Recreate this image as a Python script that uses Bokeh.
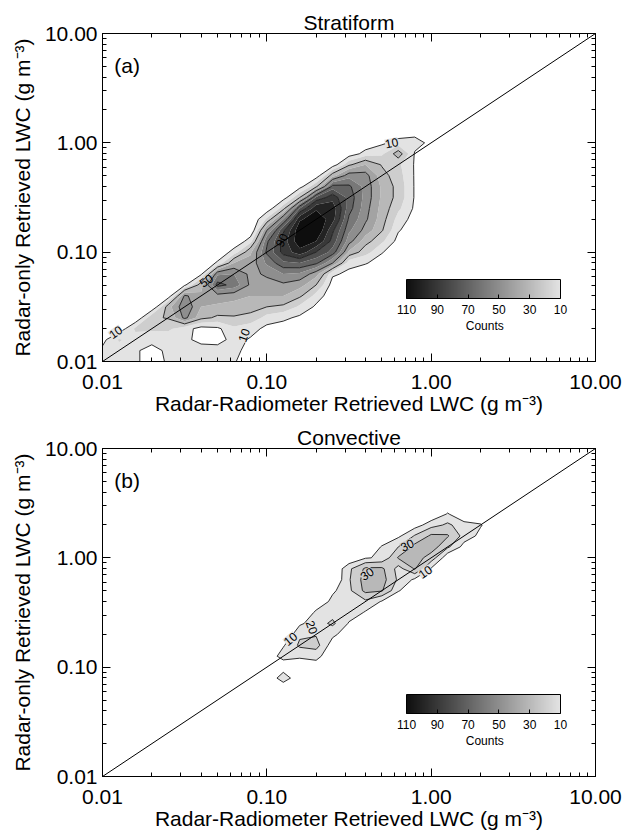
import numpy as np
from bokeh.plotting import figure
from bokeh.models import (ColorBar, LinearColorMapper, FixedTicker, CustomJSTickFormatter,
                          LogAxis, Label, Range1d)
from bokeh.layouts import column
from bokeh.embed import file_html
from bokeh.resources import INLINE

FONT = "Liberation Sans"

# ---------------- data ----------------
# bin centres (log10 of LWC, g m-3)
STRAT_LOGX = np.round(np.arange(-2.0, 0.15, 0.1), 1)   # 22 columns
STRAT_LOGY = np.round(np.arange(-2.0, 0.15, 0.1), 1)   # 22 rows
# counts per column (radar-radiometer bin), listed from the lowest radar-only bin upward
STRAT_COUNTS = [
    [15, 12, 7, 2],                                                       # -2.0
    [13, 17, 21, 3],                                                      # -1.9
    [12, 11, 16, 22, 0],                                                  # -1.8
    [4, 7, 13, 22, 28, 0],                                                # -1.7
    [12, 12, 14, 22, 31, 36, 3],                                          # -1.6
    [21, 13, 12, 14, 53, 58, 52, 8],                                      # -1.5
    [13, 14, 7, 6, 33, 40, 42, 36, 8],                                    # -1.4
    [13, 13, 7, 8, 28, 38, 46, 74, 58, 12, 0],                            # -1.3
    [11, 12, 13, 18, 29, 36, 44, 66, 60, 40, 15, 0],                      # -1.2
    [3, 7, 9, 14, 27, 34, 40, 48, 47, 44, 38, 16, 0],                     # -1.1
    [0, 0, 3, 7, 16, 30, 40, 46, 52, 62, 72, 68, 50, 22, 3, 0],           # -1.0
    [0, 0, 2, 6, 12, 28, 40, 48, 60, 78, 94, 95, 88, 60, 26, 5, 0],       # -0.9
    [0, 0, 0, 3, 8, 18, 32, 44, 58, 80, 106, 118, 118, 108, 80, 30, 6, 0],          # -0.8
    [0, 0, 0, 0, 4, 8, 16, 30, 44, 72, 90, 110, 120, 118, 108, 82, 28, 4, 0],       # -0.7
    [0, 0, 0, 0, 0, 0, 2, 5, 12, 50, 76, 86, 92, 104, 106, 96, 74, 36, 4, 0],       # -0.6
    [0, 0, 0, 0, 0, 0, 0, 3, 7, 14, 38, 54, 62, 68, 74, 76, 72, 56, 28, 4, 0],      # -0.5
    [0, 0, 0, 0, 0, 0, 0, 0, 2, 11, 24, 34, 46, 52, 54, 56, 56, 54, 40, 14, 2, 0],  # -0.4
    [0, 0, 0, 0, 0, 0, 0, 0, 0, 4, 11, 22, 31, 34, 36, 38, 38, 34, 29, 18, 8, 0],   # -0.3
    [0, 0, 0, 0, 0, 0, 0, 0, 0, 0, 0, 6, 11, 16, 22, 26, 26, 24, 22, 36, 14, 3],    # -0.2
    [0, 0, 0, 0, 0, 0, 0, 0, 0, 0, 0, 0, 3, 5, 8, 9, 9, 9, 9, 9, 14, 6],            # -0.1
    [0, 0, 0, 0, 0, 0, 0, 0, 0, 0, 0, 0, 0, 0, 0, 0, 0, 0, 0, 4, 7, 2],             #  0.0
    [],                                                                              #  0.1
]

CONV_LOGX = np.round(np.arange(-1.1, 0.45, 0.1), 1)    # 16 columns
CONV_LOGY = np.round(np.arange(-1.2, 0.55, 0.1), 1)    # 18 rows
CONV_COUNTS = [
    [],                                                    # -1.1
    [0, 0, 0, 4],                                          # -1.0
    [0, 17, 3, 14, 9],                                     # -0.9
    [0, 0, 2, 12, 22, 18, 8],                              # -0.8
    [0, 0, 4, 14, 24, 19, 16, 12, 2],                      # -0.7
    [0, 0, 0, 0, 4, 13, 22, 16, 13, 8],                    # -0.6
    [0, 0, 0, 0, 0, 2, 9, 16, 17, 18, 19, 18, 0],          # -0.5
    [0, 0, 0, 0, 0, 0, 2, 9, 18, 33, 35, 32, 9],           # -0.4
    [0, 0, 0, 0, 0, 0, 0, 0, 9, 31, 34, 32, 12, 11],       # -0.3
    [0, 0, 0, 0, 0, 0, 0, 0, 0, 11, 18, 16, 31, 20, 8],    # -0.2
    [0, 0, 0, 0, 0, 0, 0, 0, 0, 0, 8, 31, 34, 33, 21, 5],  # -0.1
    [0, 0, 0, 0, 0, 0, 0, 0, 0, 0, 0, 9, 26, 35, 32, 16],  #  0.0
    [0, 0, 0, 0, 0, 0, 0, 0, 0, 0, 0, 0, 2, 22, 31, 22, 11],  # 0.1
    [0, 0, 0, 0, 0, 0, 0, 0, 0, 0, 0, 0, 0, 6, 16, 14],    #  0.2
    [0, 0, 0, 0, 0, 0, 0, 0, 0, 0, 0, 0, 0, 0, 7, 11],     #  0.3
    [],                                                    #  0.4
]

STRAT_FILL_LEVELS = [10, 20, 30, 40, 50, 60, 70, 80, 90, 100, 110, 130]
STRAT_LINE_LEVELS = [10, 30, 50, 70, 90]
CONV_FILL_LEVELS = [10, 20, 30, 40]
CONV_LINE_LEVELS = [10, 20, 30]

# contour labels: text, x, y (data), angle (deg, on screen), count level of the backing fill
STRAT_LABELS = (["10", "90", "50", "10", "10"],
                [0.575, 0.123, 0.0427, 0.0120, 0.0724],
                [1.00, 0.129, 0.0550, 0.0186, 0.0174],
                [12, 65, 35, 35, 70],
                [10, None, None, 10, 10])
CONV_LABELS = (["10", "20", "30", "30", "10"],
               [0.139, 0.188, 0.406, 0.713, 0.920],
               [0.182, 0.232, 0.716, 1.310, 0.745],
               [40, -70, 35, 25, 35],
               [10, 10, 20, 20, 10])

ONE_TO_ONE = [0.01, 10.0]
CB_TICKS = [110, 90, 70, 50, 30, 10]

AXIS_MAJOR = [0.01, 0.1, 1.0, 10.0]
AXIS_MINOR = [k * 10.0 ** e for e in (-2, -1, 0) for k in range(2, 10)]


def gray(v):
    g = int(round(227 - (v - 10) * (227 - 14) / 100.0))
    g = max(0, min(255, g))
    return "#%02x%02x%02x" % (g, g, g)


def grid(cols, ny):
    z = np.zeros((ny, len(cols)))
    for j, c in enumerate(cols):
        z[:len(c), j] = c
    return z


def style_axis(ax, show_labels, standoff=5, label_standoff=5):
    ax.ticker = FixedTicker(ticks=AXIS_MAJOR, minor_ticks=AXIS_MINOR)
    ax.formatter = CustomJSTickFormatter(code="return tick.toFixed(2);")
    ax.major_tick_in = 8
    ax.major_tick_out = 0
    ax.minor_tick_in = 4
    ax.minor_tick_out = 0
    ax.axis_line_color = "black"
    ax.major_tick_line_color = "black"
    ax.minor_tick_line_color = "black"
    ax.major_label_text_font = FONT
    ax.major_label_text_color = "black"
    ax.axis_label_text_font = FONT
    ax.axis_label_text_font_style = "normal"
    ax.axis_label_text_font_size = "21px"
    ax.axis_label_text_color = "black"
    ax.major_label_standoff = standoff
    ax.axis_label_standoff = label_standoff
    if show_labels:
        ax.major_label_text_font_size = "21px"
    else:
        ax.major_label_text_font_size = "0px"
        ax.major_label_text_alpha = 0


def make_panel(title, tag, logx, logy, cols, fill_levels, line_levels, labels, top_border, bottom_border):
    p = figure(x_axis_type="log", y_axis_type="log",
               x_range=Range1d(0.01, 10), y_range=Range1d(0.01, 10),
               frame_width=493, frame_height=328,
               min_border_left=102, min_border_right=27,
               min_border_top=top_border, min_border_bottom=bottom_border,
               output_backend="svg", toolbar_location=None, title=title)
    p.title.text_font = FONT
    p.title.text_font_size = "21px"
    p.title.text_font_style = "normal"
    p.title.text_color = "black"
    p.title.align = "center"
    p.title.standoff = 0
    p.grid.visible = False
    p.outline_line_color = "black"
    p.background_fill_color = "white"
    p.border_fill_color = "white"

    style_axis(p.xaxis[0], True, standoff=13, label_standoff=0)
    style_axis(p.yaxis[0], True, standoff=5, label_standoff=8)
    p.xaxis[0].axis_label = "Radar-Radiometer Retrieved LWC (g m\u207b\u00b3)"
    p.yaxis[0].axis_label = "Radar-only Retrieved LWC (g m\u207b\u00b3)"
    top = LogAxis()
    right = LogAxis()
    style_axis(top, False)
    style_axis(right, False)
    p.add_layout(top, "above")
    p.add_layout(right, "right")

    xs = 10.0 ** np.asarray(logx)
    ys = 10.0 ** np.asarray(logy)
    z = grid(cols, len(logy))
    p.contour(x=xs, y=ys, z=z, levels=fill_levels,
              fill_color=[gray(v) for v in fill_levels[:-1]])
    p.contour(x=xs, y=ys, z=z, levels=line_levels,
              line_color="#1a1a1a", line_width=0.9)

    p.line(ONE_TO_ONE, ONE_TO_ONE, line_color="black", line_width=1)

    for t, x, y, a, bg in zip(*labels):
        p.add_layout(Label(x=x, y=y, text=t, angle=a, angle_units="deg",
                           text_font=FONT, text_font_size="12px", text_color="black",
                           text_align="center", text_baseline="middle",
                           background_fill_color=(gray(bg) if bg is not None else None)))

    p.add_layout(Label(x=0.0118, y=5.15, text=tag, text_font=FONT, text_font_size="21px",
                       text_align="left", text_baseline="middle", text_color="black"))

    mapper = LinearColorMapper(palette=[gray(v) for v in np.linspace(110, 10, 256)],
                               low=-110, high=-10)
    cb = ColorBar(color_mapper=mapper, orientation="horizontal", width=154, height=19,
                  location=(304, 45), padding=0,
                  ticker=FixedTicker(ticks=[-t for t in CB_TICKS]),
                  formatter=CustomJSTickFormatter(code="return String(-tick);"),
                  major_label_text_font=FONT, major_label_text_font_size="12px",
                  major_label_text_color="black",
                  bar_line_color="black", major_tick_line_color="black",
                  major_tick_in=4, major_tick_out=0, label_standoff=6,
                  background_fill_alpha=0, border_line_color=None)
    p.add_layout(cb)
    p.add_layout(Label(x=2.12, y=0.0209, text="Counts", text_font=FONT, text_font_size="12px",
                       text_align="center", text_baseline="middle", text_color="black"))
    return p


pa = make_panel("Stratiform", "(a)", STRAT_LOGX, STRAT_LOGY, STRAT_COUNTS,
                STRAT_FILL_LEVELS, STRAT_LINE_LEVELS, STRAT_LABELS, 33, 59)
pb = make_panel("Convective", "(b)", CONV_LOGX, CONV_LOGY, CONV_COUNTS,
                CONV_FILL_LEVELS, CONV_LINE_LEVELS, CONV_LABELS, 28, 54)

layout = column(pa, pb, spacing=0)
html = file_html(layout, INLINE, title="LWC comparison")
html = html.replace("<head>", "<head><style>html,body{overflow:hidden;}</style>", 1)
open("out.html", "w").write(html)
